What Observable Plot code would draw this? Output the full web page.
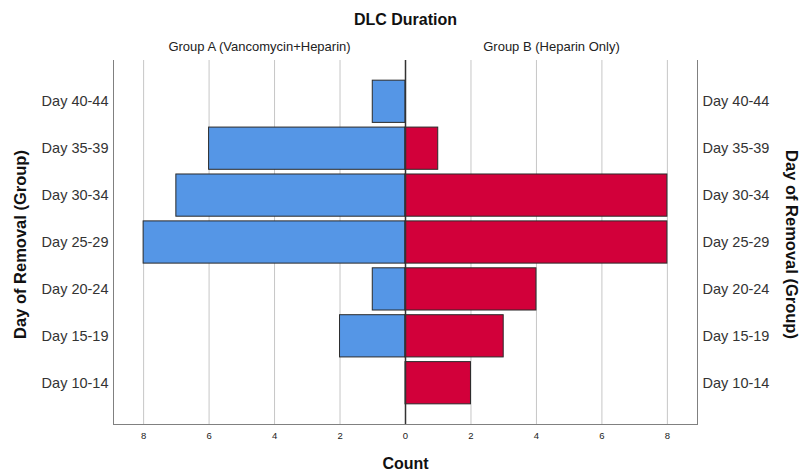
<!DOCTYPE html>
<html>
<head>
<meta charset="utf-8">
<script src="https://cdn.jsdelivr.net/npm/d3@7"></script>
<script src="https://cdn.jsdelivr.net/npm/@observablehq/plot@0.6"></script>
<style>
  html, body { margin: 0; padding: 0; background: #fff; }
  svg { font-family: "Liberation Sans", Arial, sans-serif; }
</style>
</head>
<body>
<div id="chart"></div>
<script>
const categories = ["Day 40-44", "Day 35-39", "Day 30-34", "Day 25-29", "Day 20-24", "Day 15-19", "Day 10-14"];
const groupA = [1, 6, 7, 8, 1, 2, 0]; // Vancomycin+Heparin (left)
const groupB = [0, 1, 8, 8, 4, 3, 2]; // Heparin Only (right)
const xTicks = [-8, -6, -4, -2, 0, 2, 4, 6, 8];
const groupLabels = ["Group A (Vancomycin+Heparin)", "Group B (Heparin Only)"];
const xMax = 8.92;

const dataA = categories.map((c, i) => ({cat: c, v: -groupA[i]})).filter(d => d.v !== 0);
const dataB = categories.map((c, i) => ({cat: c, v: groupB[i]})).filter(d => d.v !== 0);

const chart = Plot.plot({
  width: 800,
  height: 473,
  marginTop: 60,
  marginBottom: 49,
  marginLeft: 113,
  marginRight: 103,
  style: {fontFamily: "Liberation Sans, Arial, sans-serif", background: "#fff"},
  x: {domain: [-xMax, xMax]},
  y: {domain: categories, paddingInner: 0.1, paddingOuter: 0.43, round: false},
  marks: [
    Plot.gridX(xTicks.filter(d => d !== 0), {stroke: "#c6c6c6", strokeOpacity: 1}),
    Plot.frame({anchor: "left", stroke: "#808080"}),
    Plot.frame({anchor: "right", stroke: "#808080"}),
    Plot.frame({anchor: "bottom", stroke: "#808080"}),
    Plot.barX(dataA, {x: "v", y: "cat", fill: "#5596e6", stroke: "#2a2a2a", strokeWidth: 1}),
    Plot.barX(dataB, {x: "v", y: "cat", fill: "#d2003a", stroke: "#2a2a2a", strokeWidth: 1}),
    Plot.ruleX([0], {stroke: "#333", strokeWidth: 1.5}),
    Plot.axisX({ticks: xTicks, tickFormat: d => Math.abs(d), tickSize: 0, tickPadding: 8, fontSize: 9.5, label: null, fill: "#222"}),
    Plot.axisY({anchor: "left", tickSize: 0, tickPadding: 5, fontSize: 14.5, label: null, fill: "#333"}),
    Plot.axisY({anchor: "right", tickSize: 0, tickPadding: 5, fontSize: 14.5, label: null, fill: "#333"}),
    Plot.text(["DLC Duration"], {frameAnchor: "top", lineAnchor: "middle", dy: -41, fontSize: 16, fontWeight: "bold", fill: "#111"}),
    Plot.text(groupLabels, {x: [-xMax / 2, xMax / 2], frameAnchor: "top", lineAnchor: "middle", dy: -14, fontSize: 13, fill: "#222"}),
    Plot.text(["Count"], {frameAnchor: "bottom", lineAnchor: "middle", dy: 39, fontSize: 16, fontWeight: "bold", fill: "#111"}),
    Plot.text(["Day of Removal (Group)"], {frameAnchor: "left", textAnchor: "middle", lineAnchor: "middle", dx: -93, dy: 2, rotate: -90, fontSize: 16.5, fontWeight: "bold", fill: "#111"}),
    Plot.text(["Day of Removal (Group)"], {frameAnchor: "right", textAnchor: "middle", lineAnchor: "middle", dx: 94, dy: 2, rotate: 90, fontSize: 16.5, fontWeight: "bold", fill: "#111"})
  ]
});
document.getElementById("chart").appendChild(chart);
</script>
</body>
</html>
